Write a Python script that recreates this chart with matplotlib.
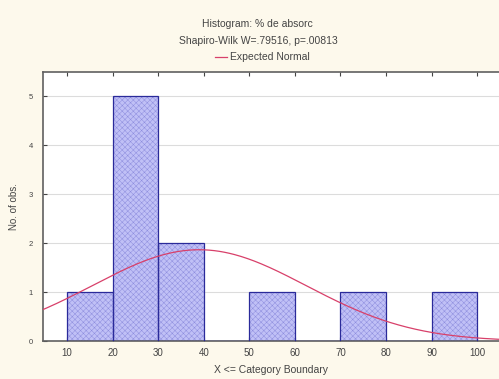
import matplotlib.pyplot as plt
import numpy as np

# histogram data
bin_left = [10, 20, 30, 40, 50, 60, 70, 80, 90]
counts = [1, 5, 2, 0, 1, 0, 1, 0, 1]
bin_width = 10
n_obs = 11
mean_val = 39.0
sd_val = 23.5

x_ticks = [10, 20, 30, 40, 50, 60, 70, 80, 90, 100]
y_ticks = [0, 1, 2, 3, 4, 5]

bg = '#fdf9ec'
plt.rcParams['font.family'] = ['Liberation Sans', 'DejaVu Sans']
plt.rcParams['hatch.color'] = '#8e8ede'
plt.rcParams['hatch.linewidth'] = 0.35

fig = plt.figure(figsize=(4.99, 3.79), dpi=100, facecolor=bg)
ax = fig.add_axes([0.086, 0.10, 0.914, 0.71])
ax.set_facecolor('white')

ax.set_axisbelow(True)
ax.yaxis.grid(True, color='#dcdcdc', linewidth=0.8)

ax.bar(bin_left, counts, width=bin_width, align='edge', color='#c0c0f6',
       edgecolor='#8e8ede', linewidth=0, hatch='xxxxxx', zorder=2)
# navy outlines on top of the hatching
ax.bar(bin_left, counts, width=bin_width, align='edge', color='none',
       edgecolor='#2a2a9a', linewidth=0.9, zorder=3)

xs = np.linspace(0, 110, 300)
ys = n_obs * bin_width / (sd_val * np.sqrt(2 * np.pi)) * np.exp(-0.5 * ((xs - mean_val) / sd_val) ** 2)
ax.plot(xs, ys, color='#d8406a', linewidth=0.9, zorder=4)

ax.set_xlim(4.7, 104.8)
ax.set_ylim(0, 5.5)
ax.set_xticks(x_ticks)
ax.set_yticks(y_ticks)
ax.tick_params(axis='both', direction='in', length=3, labelsize=7,
               colors='#444444', top=True, right=False)
ax.tick_params(axis='x', pad=5)
ax.tick_params(axis='y', labelsize=5.5, pad=7)
for s in ['left', 'bottom', 'top']:
    ax.spines[s].set_color('#606060')
    ax.spines[s].set_linewidth(1.2)
ax.spines['right'].set_visible(False)

ax.set_xlabel('X <= Category Boundary', fontsize=7.5, color='#444444', labelpad=5)
ax.set_ylabel('No. of obs.', fontsize=7, color='#444444', labelpad=7)

fig.text(0.515, 0.937, 'Histogram: % de absorc', ha='center', va='center',
         fontsize=7.5, color='#444444')
fig.text(0.517, 0.892, 'Shapiro-Wilk W=.79516, p=.00813', ha='center',
         va='center', fontsize=7.5, color='#444444')
fig.add_artist(plt.Line2D([0.431, 0.455], [0.850, 0.850], color='#d8406a',
                          linewidth=0.9, transform=fig.transFigure))
fig.text(0.461, 0.850, 'Expected Normal', ha='left', va='center',
         fontsize=7.5, color='#444444')

fig.savefig('out.png', dpi=100, facecolor=bg)
